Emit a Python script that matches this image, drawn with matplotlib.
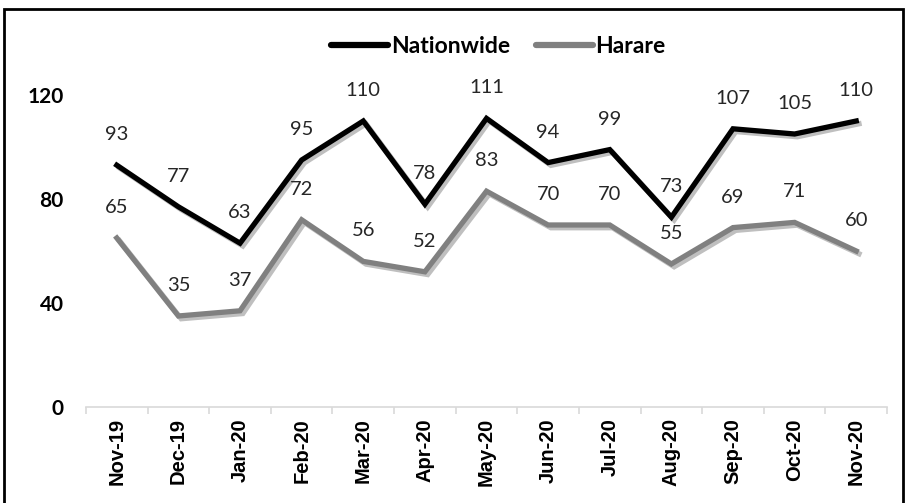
#line chart: Nationwide vs Harare

import matplotlib.pyplot as plt
import matplotlib.patheffects as pe
from matplotlib.patches import Rectangle

months = ["Nov-19", "Dec-19", "Jan-20", "Feb-20", "Mar-20", "Apr-20", "May-20",
          "Jun-20", "Jul-20", "Aug-20", "Sep-20", "Oct-20", "Nov-20"]
nationwide = [93, 77, 63, 95, 110, 78, 111, 94, 99, 73, 107, 105, 110]
harare = [65, 35, 37, 72, 56, 52, 83, 70, 70, 55, 69, 71, 60]
yticks = [0, 40, 80, 120]

#create figure
fig = plt.figure(figsize=(9.07, 5.03), dpi=100)
ax = fig.add_axes([0.0948, 0.1909, 0.8832, 0.7236])

x = list(range(len(months)))
shadow = [pe.SimpleLineShadow(offset=(2, -2), shadow_color="black", alpha=0.25), pe.Normal()]

ax.plot(x, nationwide, color="black", lw=3.8, label="Nationwide",
        solid_joinstyle="miter", path_effects=shadow, zorder=3)
ax.plot(x, harare, color="#808080", lw=3.8, label="Harare",
        solid_joinstyle="miter", path_effects=shadow, zorder=2)

#data labels above points
for xi, v in zip(x, nationwide):
    ax.annotate(str(v), (xi, v), xytext=(0, 22), textcoords="offset points",
                ha="center", va="center", fontsize=14.5, family="Lato", color="#262626")
for xi, v in zip(x, harare):
    ax.annotate(str(v), (xi, v), xytext=(0, 22), textcoords="offset points",
                ha="center", va="center", fontsize=14.5, family="Lato", color="#262626")

#axes
ax.set_xlim(-0.5, len(months) - 0.5)
ax.set_ylim(0, 140)
ax.set_yticks(yticks)
ax.set_yticklabels([str(t) for t in yticks], fontweight="bold", fontsize=15,
                   family="Lato")
ax.tick_params(axis="y", length=0, pad=16)

ax.set_xticks(x)
ax.set_xticklabels(months, rotation=90, fontweight="bold", fontsize=14.5,
                   family="Liberation Sans")
ax.tick_params(axis="x", length=0, pad=8)
ax.set_xticks([i - 0.5 for i in range(len(months) + 1)], minor=True)
ax.tick_params(axis="x", which="minor", length=5, color="#d9d9d9", width=1.2)

for s in ["top", "right", "left"]:
    ax.spines[s].set_visible(False)
ax.spines["bottom"].set_color("#d9d9d9")
ax.spines["bottom"].set_linewidth(1.2)

#legend
leg = ax.legend(loc="center", bbox_to_anchor=(0.515, 0.99), ncol=2, frameon=False,
                handlelength=2.5, handletextpad=0.12, columnspacing=1.1,
                prop={"family": "Lato", "weight": "bold", "size": 16.5})
for line in leg.get_lines():
    line.set_linewidth(4.5)
    line.set_solid_capstyle("round")
    line.set_path_effects([])

#outer frame
fig.patches.append(Rectangle((4 / 907, -0.01), 899 / 907, 1 - 9 / 503 + 0.01,
                             transform=fig.transFigure, fill=False, edgecolor="black", lw=2))

fig.savefig("out.png", dpi=100)
